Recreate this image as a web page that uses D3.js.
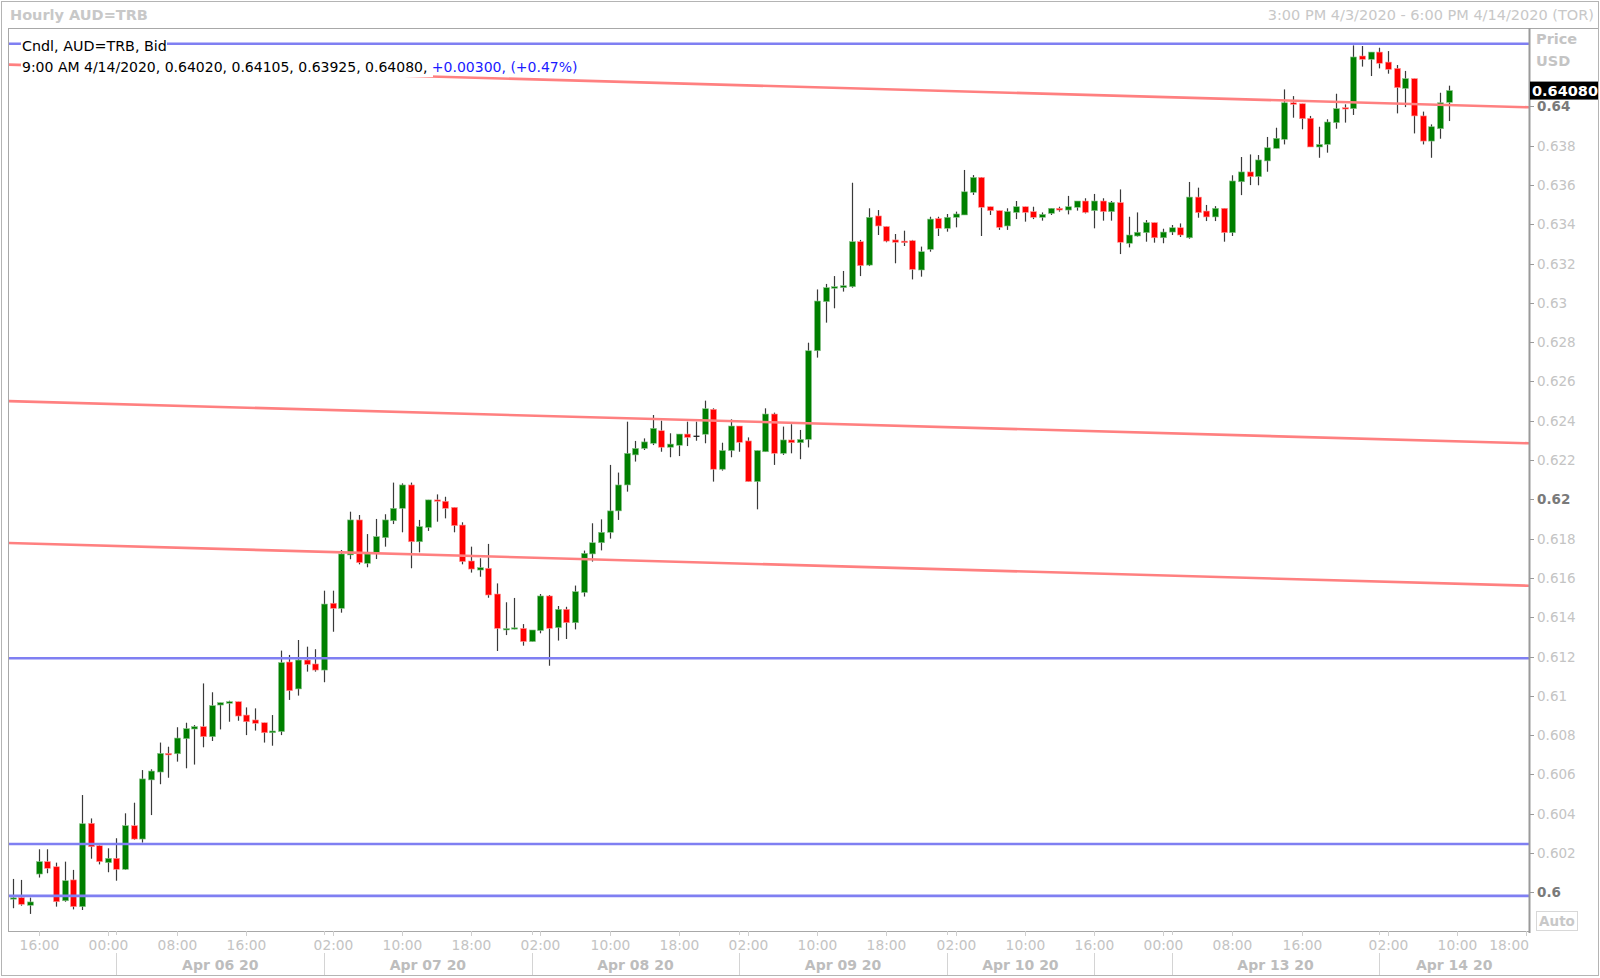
<!DOCTYPE html>
<html><head><meta charset="utf-8">
<script src="https://cdn.jsdelivr.net/npm/d3@7"></script>
<style>body{margin:0;background:#fff}svg{display:block}text{font-family:"DejaVu Sans",sans-serif}</style>
</head><body><svg id="c" width="1600" height="978"></svg>
<script>
// Hourly candles (index 0 = first bar)
const opens=[0.59965,0.59973,0.59934,0.60093,0.60156,0.60130,0.59957,0.60063,0.59927,0.60351,
0.60237,0.60151,0.60173,0.60117,0.60339,0.60271,0.60572,0.60612,0.60707,0.60705,
0.60782,0.60831,0.60843,0.60792,0.60953,0.60962,0.60970,0.60902,0.60877,0.60863,
0.60812,0.60818,0.61172,0.61035,0.61182,0.61162,0.61131,0.61471,0.61445,0.61717,
0.61895,0.61674,0.61725,0.61805,0.61891,0.61954,0.62073,0.61784,0.61857,0.61997,
0.61990,0.61959,0.61869,0.61686,0.61640,0.61649,0.61518,0.61335,0.61343,0.61343,
0.61276,0.61332,0.61508,0.61347,0.61440,0.61372,0.61526,0.61722,0.61779,0.61832,
0.61941,0.62073,0.62226,0.62259,0.62285,0.62349,0.62265,0.62275,0.62332,0.62324,
0.62331,0.62458,0.62153,0.62248,0.62373,0.62297,0.62090,0.62242,0.62434,0.62234,
0.62302,0.62288,0.62305,0.62756,0.63006,0.63074,0.63077,0.63082,0.63311,0.63192,
0.63442,0.63388,0.63320,0.63314,0.63316,0.63167,0.63272,0.63429,0.63379,0.63435,
0.63447,0.63562,0.63638,0.63489,0.63469,0.63391,0.63460,0.63489,0.63464,0.63435,
0.63455,0.63481,0.63472,0.63486,0.63518,0.63469,0.63518,0.63464,0.63510,0.63303,
0.63340,0.63357,0.63408,0.63331,0.63360,0.63382,0.63331,0.63538,0.63467,0.63437,
0.63481,0.63357,0.63616,0.63666,0.63642,0.63722,0.63786,0.63832,0.64018,0.64013,
0.63939,0.63793,0.63806,0.63917,0.63993,0.63988,0.64256,0.64239,0.64276,0.64225,
0.64193,0.64091,0.64141,0.63951,0.63823,0.63886,0.64020];
const highs=[0.60068,0.60063,0.59973,0.60219,0.60219,0.60151,0.60156,0.60114,0.60495,0.60376,
0.60240,0.60224,0.60275,0.60402,0.60456,0.60622,0.60626,0.60762,0.60741,0.60840,
0.60863,0.60851,0.61063,0.61018,0.60965,0.60975,0.60970,0.60941,0.60936,0.60863,
0.60902,0.61230,0.61208,0.61284,0.61250,0.61237,0.61535,0.61535,0.61742,0.61937,
0.61920,0.61823,0.61900,0.61924,0.62085,0.62081,0.62085,0.61895,0.61997,0.62025,
0.62013,0.61959,0.61883,0.61759,0.61700,0.61773,0.61572,0.61476,0.61498,0.61365,
0.61335,0.61518,0.61513,0.61457,0.61453,0.61561,0.61739,0.61878,0.61898,0.62175,
0.62136,0.62395,0.62297,0.62310,0.62429,0.62400,0.62336,0.62332,0.62395,0.62395,
0.62502,0.62463,0.62288,0.62407,0.62373,0.62315,0.62248,0.62463,0.62441,0.62370,
0.62382,0.62353,0.62797,0.63068,0.63096,0.63136,0.63162,0.63611,0.63320,0.63481,
0.63472,0.63388,0.63350,0.63367,0.63320,0.63286,0.63438,0.63438,0.63452,0.63464,
0.63676,0.63650,0.63640,0.63489,0.63469,0.63481,0.63518,0.63489,0.63489,0.63460,
0.63481,0.63489,0.63544,0.63518,0.63532,0.63554,0.63532,0.63518,0.63577,0.63438,
0.63460,0.63421,0.63408,0.63377,0.63396,0.63404,0.63615,0.63586,0.63498,0.63492,
0.63481,0.63649,0.63742,0.63755,0.63752,0.63844,0.63891,0.64086,0.64052,0.64013,
0.63951,0.63896,0.63934,0.64064,0.64010,0.64310,0.64307,0.64276,0.64298,0.64281,
0.64210,0.64180,0.64141,0.63973,0.63908,0.64069,0.64105];
const lows=[0.59919,0.59932,0.59890,0.60075,0.60097,0.59927,0.59952,0.59913,0.59910,0.60171,
0.60142,0.60102,0.60059,0.60114,0.60268,0.60253,0.60393,0.60550,0.60583,0.60665,
0.60631,0.60650,0.60738,0.60770,0.60829,0.60868,0.60873,0.60800,0.60823,0.60762,
0.60746,0.60800,0.60979,0.61001,0.61123,0.61123,0.61069,0.61326,0.61423,0.61695,
0.61669,0.61654,0.61696,0.61759,0.61874,0.61832,0.61649,0.61730,0.61839,0.61886,
0.61903,0.61832,0.61669,0.61627,0.61606,0.61499,0.61228,0.61309,0.61338,0.61255,
0.61276,0.61318,0.61153,0.61281,0.61289,0.61338,0.61505,0.61683,0.61740,0.61800,
0.61895,0.62039,0.62192,0.62251,0.62276,0.62242,0.62214,0.62220,0.62271,0.62298,
0.62285,0.62090,0.62146,0.62214,0.62242,0.62090,0.61949,0.62242,0.62175,0.62226,
0.62234,0.62204,0.62264,0.62721,0.62899,0.62972,0.63057,0.63077,0.63136,0.63187,
0.63345,0.63308,0.63201,0.63289,0.63119,0.63133,0.63260,0.63340,0.63362,0.63384,
0.63447,0.63549,0.63340,0.63447,0.63371,0.63371,0.63426,0.63413,0.63426,0.63418,
0.63447,0.63464,0.63450,0.63469,0.63455,0.63379,0.63418,0.63418,0.63248,0.63282,
0.63337,0.63311,0.63306,0.63303,0.63345,0.63335,0.63326,0.63433,0.63416,0.63416,
0.63311,0.63340,0.63548,0.63599,0.63598,0.63667,0.63786,0.63806,0.63942,0.63883,
0.63793,0.63738,0.63764,0.63886,0.63917,0.63956,0.64202,0.64154,0.64193,0.64166,
0.63964,0.63996,0.63862,0.63806,0.63738,0.63835,0.63925];
const closes=[0.59972,0.59939,0.59951,0.60156,0.60122,0.59952,0.60059,0.59927,0.60349,0.60232,
0.60156,0.60173,0.60117,0.60339,0.60271,0.60577,0.60617,0.60707,0.60699,0.60785,
0.60833,0.60843,0.60792,0.60950,0.60965,0.60970,0.60897,0.60868,0.60860,0.60812,
0.60821,0.61169,0.61026,0.61182,0.61160,0.61131,0.61467,0.61445,0.61722,0.61895,
0.61678,0.61722,0.61810,0.61895,0.61954,0.62073,0.61784,0.61861,0.61997,0.61990,
0.61954,0.61866,0.61683,0.61645,0.61652,0.61513,0.61343,0.61342,0.61346,0.61276,
0.61335,0.61508,0.61343,0.61440,0.61372,0.61530,0.61725,0.61779,0.61832,0.61941,
0.62073,0.62234,0.62259,0.62292,0.62361,0.62265,0.62281,0.62332,0.62315,0.62324,
0.62461,0.62153,0.62248,0.62373,0.62290,0.62090,0.62248,0.62434,0.62234,0.62302,
0.62288,0.62305,0.62756,0.63009,0.63077,0.63082,0.63087,0.63311,0.63189,0.63435,
0.63391,0.63314,0.63308,0.63306,0.63170,0.63260,0.63426,0.63379,0.63435,0.63452,
0.63565,0.63638,0.63486,0.63469,0.63384,0.63464,0.63489,0.63460,0.63435,0.63450,
0.63481,0.63472,0.63489,0.63518,0.63460,0.63518,0.63464,0.63511,0.63308,0.63345,
0.63359,0.63408,0.63331,0.63360,0.63382,0.63345,0.63538,0.63459,0.63437,0.63481,
0.63357,0.63620,0.63666,0.63642,0.63727,0.63789,0.63837,0.64018,0.64010,0.63937,
0.63793,0.63806,0.63920,0.63988,0.63986,0.64251,0.64239,0.64276,0.64219,0.64188,
0.64095,0.64141,0.63951,0.63823,0.63896,0.64018,0.64080];

const timeTickIdx=[3,11,19,27,37,45,53,61,69,77,85,93,101,109,117,125,133,141,149,159,167,175];
const timeTickText=["16:00","00:00","08:00","16:00","02:00","10:00","18:00","02:00","10:00","18:00","02:00","10:00","18:00","02:00","10:00","16:00","00:00","08:00","16:00","02:00","10:00","18:00"];
const daySepIdx=[12,36,60,84,108,125,134,158];
const dayLabels=["Apr 06 20","Apr 07 20","Apr 08 20","Apr 09 20","Apr 10 20","Apr 13 20","Apr 14 20"];
const dayLabelFrom=[12,36,60,84,108,134,158];
const dayLabelTo=[36,60,84,108,125,158,175.3];
const priceTicks=[0.600,0.602,0.604,0.606,0.608,0.610,0.612,0.614,0.616,0.618,0.620,0.622,0.624,0.626,0.628,0.630,0.632,0.634,0.636,0.638,0.640];
const boldTicks=[0.600,0.620,0.640];
const hLevels=[0.64318,0.61191,0.60246,0.59982];
const trendStart=[0.64212,0.62500,0.61778];
const trendEnd=[0.63995,0.62285,0.61560];
const trendIdx=[-0.543,175.3];
const lastPrice=0.64080;

const W=1600,H=978, L=8, R=1529, T=28, B=931;
const svg=d3.select("#c");
const x=d3.scaleLinear().domain([-0.543,175.3]).range([L,R]);
const y=d3.scaleLinear().domain([0.6,0.62]).range([892.3,499.3]);

svg.append("rect").attr("width",W).attr("height",H).attr("fill","#fff");
// outer frame
svg.append("rect").attr("x",1.5).attr("y",1.5).attr("width",W-3).attr("height",974).attr("fill","none").attr("stroke","#b4b4b4");
svg.append("line").attr("x1",L).attr("x2",W-2).attr("y1",T+0.5).attr("y2",T+0.5).attr("stroke","#a8a8a8");
svg.append("line").attr("x1",L+0.5).attr("x2",L+0.5).attr("y1",T).attr("y2",B).attr("stroke","#a8a8a8");
svg.append("line").attr("x1",L).attr("x2",R).attr("y1",B+0.5).attr("y2",B+0.5).attr("stroke","#a8a8a8");

// titles
svg.append("text").attr("x",10).attr("y",20).attr("font-size",14.5).attr("font-weight","bold").attr("fill","#c8c8c8").text("Hourly AUD=TRB");
svg.append("text").attr("x",1594).attr("y",20).attr("text-anchor","end").attr("font-size",14.5).attr("fill","#c8c8c8").text("3:00 PM 4/3/2020 - 6:00 PM 4/14/2020 (TOR)");

const clip=svg.append("clipPath").attr("id","pc").append("rect").attr("x",L+1).attr("y",T+1).attr("width",R-L-1).attr("height",B-T-1);
const plot=svg.append("g").attr("clip-path","url(#pc)");

// candles
const idx=d3.range(opens.length);
const cg=plot.append("g");
cg.selectAll("line.w").data(idx).join("line")
 .attr("x1",i=>Math.round(x(i))+0.5).attr("x2",i=>Math.round(x(i))+0.5)
 .attr("y1",i=>y(highs[i])).attr("y2",i=>y(lows[i]))
 .attr("stroke","#3a3a3a").attr("stroke-width",1.2);
cg.selectAll("rect.b").data(idx).join("rect")
 .attr("x",i=>Math.round(x(i))+0.5-3).attr("width",6)
 .attr("y",i=>y(Math.max(opens[i],closes[i])))
 .attr("height",i=>Math.max(1.3,Math.abs(y(opens[i])-y(closes[i]))))
 .attr("fill",i=>closes[i]>opens[i]?"#008000":(closes[i]<opens[i]?"#ff0000":"#222"))
 .attr("stroke",i=>closes[i]>opens[i]?"#8cc48c":(closes[i]<opens[i]?"#ff9a9a":"none"))
 .attr("stroke-width",0.6);

// trend lines
const tl=plot.append("g");
trendStart.forEach((p,k)=>{
 tl.append("line").attr("x1",x(trendIdx[0])).attr("x2",x(trendIdx[1]))
  .attr("y1",y(p)).attr("y2",y(trendEnd[k])).attr("stroke","#ff8080").attr("stroke-width",2.6);
});
hLevels.forEach(p=>{
 tl.append("line").attr("x1",L).attr("x2",R).attr("y1",y(p)).attr("y2",y(p)).attr("stroke","#7f7ff2").attr("stroke-width",2.6);
});

// legend
svg.append("rect").attr("x",21).attr("y",37).attr("width",146).attr("height",17).attr("fill","#fff");
svg.append("text").attr("x",22).attr("y",51).attr("font-size",14.3).attr("fill","#000").text("Cndl, AUD=TRB, Bid");
svg.append("rect").attr("x",21).attr("y",57).attr("width",412).attr("height",20).attr("fill","#fff");
const lt=svg.append("text").attr("x",22).attr("y",72).attr("font-size",14);
lt.append("tspan").attr("fill","#000").text("9:00 AM 4/14/2020, 0.64020, 0.64105, 0.63925, 0.64080, ");
lt.append("tspan").attr("fill","#1a1aff").text("+0.00300, (+0.47%)");

// right axis
svg.append("line").attr("x1",R+0.5).attr("x2",R+0.5).attr("y1",T).attr("y2",B+2).attr("stroke","#9a9a9a").attr("stroke-width",2);
const ya=svg.append("g");
priceTicks.forEach(p=>{
 const yy=Math.round(y(p))+0.5; const b=boldTicks.some(v=>Math.abs(v-p)<1e-9);
 ya.append("line").attr("x1",R).attr("x2",R+5).attr("y1",yy).attr("y2",yy).attr("stroke","#9a9a9a");
 ya.append("text").attr("x",1537).attr("y",yy).attr("dy","0.36em").attr("font-size",13.5)
  .attr("font-weight",b?"bold":"normal").attr("fill",b?"#7a7a7a":"#c4c4c4")
  .text(d3.format("~g")(+p.toFixed(3)));
});
svg.append("text").attr("x",1536).attr("y",44).attr("font-size",14.5).attr("font-weight","bold").attr("fill","#c4c4c4").text("Price");
svg.append("text").attr("x",1536).attr("y",66).attr("font-size",14.5).attr("font-weight","bold").attr("fill","#c4c4c4").text("USD");
svg.append("rect").attr("x",1530).attr("y",y(lastPrice)-9).attr("width",68).attr("height",18).attr("fill","#000");
svg.append("text").attr("x",1532).attr("y",y(lastPrice)).attr("dy","0.36em").attr("font-size",14.5).attr("font-weight","bold").attr("fill","#fff").text(lastPrice.toFixed(5));
svg.append("rect").attr("x",1536.5).attr("y",911.5).attr("width",41).attr("height",19).attr("fill","none").attr("stroke","#d8d8d8");
svg.append("text").attr("x",1557).attr("y",926).attr("text-anchor","middle").attr("font-size",13.5).attr("font-weight","bold").attr("fill","#c8c8c8").text("Auto");

// bottom axis
const xa=svg.append("g");
timeTickIdx.forEach((ti,k)=>{
 const xx=Math.round(x(ti))+0.5;
 if(xx<=R+1) xa.append("line").attr("x1",xx).attr("x2",xx).attr("y1",B).attr("y2",B+5).attr("stroke","#cfcfcf");
 const t=xa.append("text").attr("y",950).attr("font-size",13.8).attr("fill","#c4c4c4").text(timeTickText[k]);
 if(xx+20>R){t.attr("x",R).attr("text-anchor","end");} else {t.attr("x",xx).attr("text-anchor","middle");}
});
daySepIdx.forEach(di=>{
 const xx=Math.round(x(di))+0.5;
 xa.append("line").attr("x1",xx).attr("x2",xx).attr("y1",B).attr("y2",B+4).attr("stroke","#cfcfcf");
 xa.append("line").attr("x1",xx).attr("x2",xx).attr("y1",953).attr("y2",975).attr("stroke","#d4d4d4");
});
dayLabels.forEach((d,k)=>{
 xa.append("text").attr("x",(x(dayLabelFrom[k])+x(dayLabelTo[k]))/2).attr("y",970).attr("text-anchor","middle")
  .attr("font-size",14).attr("font-weight","bold").attr("fill","#bdbdbd").text(d);
});
</script></body></html>
